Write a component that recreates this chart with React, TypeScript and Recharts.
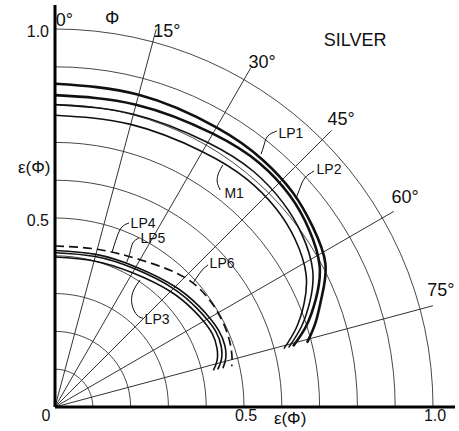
import React from 'react';
import { ComposedChart, Line, XAxis, YAxis, ReferenceLine, ReferenceDot } from 'recharts';

// ---- data (emissivity ε(Φ) at emission angle Φ, degrees) ----
const OUTER_ANGLES = [0, 15, 30, 40, 48, 55, 62, 67.5, 72, 75.7];
const LP1 = [0.855, 0.855, 0.854, 0.854, 0.847, 0.832, 0.81, 0.764, 0.725, 0.688];
const LP2 = [0.825, 0.828, 0.835, 0.842, 0.836, 0.82, 0.793, 0.747, 0.7, 0.65];
const MX = [0.8, 0.802, 0.808, 0.815, 0.81, 0.797, 0.772, 0.73, 0.685, 0.638];
const M1 = [0.772, 0.774, 0.78, 0.788, 0.786, 0.775, 0.752, 0.713, 0.67, 0.625];

const INNER_ANGLES = [0, 15, 30, 45, 55, 60, 65, 70, 74, 77];
const LP6 = [0.426, 0.432, 0.45, 0.485, 0.497, 0.498, 0.497, 0.493, 0.487, 0.48];
const LP4 = [0.414, 0.418, 0.428, 0.45, 0.465, 0.472, 0.478, 0.478, 0.47, 0.456];
const LP5 = [0.408, 0.412, 0.422, 0.443, 0.457, 0.464, 0.47, 0.468, 0.458, 0.442];
const LP3 = [0.397, 0.4, 0.41, 0.432, 0.447, 0.454, 0.459, 0.456, 0.446, 0.43];

const GRID_RADII = [0.1, 0.2, 0.3, 0.4, 0.5, 0.6, 0.7, 0.8, 0.9, 1.0];
const SPOKE_ANGLES = [15, 30, 45, 60, 75];
const SPOKE_LABELS = ['15°', '30°', '45°', '60°', '75°'];
const X_TICKS = [0, 0.5, 1.0];
const Y_TICKS = [0.5, 1.0];
const TITLE = 'SILVER';

// ---- annotation placement (data coordinates) ----
const SPOKE_LABEL_POS = [
  { x: 0.296, y: 0.997 },
  { x: 0.548, y: 0.915 },
  { x: 0.757, y: 0.762 },
  { x: 0.926, y: 0.556 },
  { x: 1.021, y: 0.31 },
];
const CURVE_LABELS = [
  { text: 'LP1', x: 0.624, y: 0.725, leader: [[0.587, 0.73], [0.563, 0.717], [0.553, 0.693], [0.545, 0.669]] },
  { text: 'LP2', x: 0.725, y: 0.63, leader: [[0.685, 0.624], [0.661, 0.606], [0.648, 0.579], [0.638, 0.553]] },
  { text: 'M1', x: 0.474, y: 0.566, leader: [[0.437, 0.574], [0.429, 0.598], [0.434, 0.622], [0.444, 0.64]] },
  { text: 'LP4', x: 0.233, y: 0.487, leader: [[0.196, 0.487], [0.177, 0.476], [0.164, 0.45], [0.151, 0.41]] },
  { text: 'LP5', x: 0.259, y: 0.447, leader: [[0.222, 0.447], [0.206, 0.434], [0.198, 0.407], [0.19, 0.384]] },
  { text: 'LP6', x: 0.442, y: 0.381, leader: [[0.405, 0.376], [0.389, 0.362], [0.376, 0.344], [0.365, 0.328]] },
  { text: 'LP3', x: 0.27, y: 0.233, leader: [[0.233, 0.235], [0.217, 0.243], [0.204, 0.27], [0.206, 0.304], [0.225, 0.336]] },
];

const FONT = '"Liberation Sans", Arial, sans-serif';
const INK = '#111';
const GRID = '#333';
const SCALE = 378; // px per 1.0 (equal aspect)
const PLOT_W = 400;
const PLOT_H = 402;

const rad = (d: number) => (d * Math.PI) / 180;
const toXY = (angles: number[], values: number[]) =>
  angles.map((a, i) => ({ x: values[i] * Math.sin(rad(a)), y: values[i] * Math.cos(rad(a)) }));
const arc = (r: number) => {
  const pts = [];
  for (let a = 0; a <= 90; a += 3) pts.push({ x: r * Math.sin(rad(a)), y: r * Math.cos(rad(a)) });
  return pts;
};

const SERIES = [
  { key: 'LP1', data: toXY(OUTER_ANGLES, LP1), w: 2.6, dash: undefined },
  { key: 'LP2', data: toXY(OUTER_ANGLES, LP2), w: 2.6, dash: undefined },
  { key: 'MX', data: toXY(OUTER_ANGLES, MX), w: 1.6, dash: undefined },
  { key: 'M1', data: toXY(OUTER_ANGLES, M1), w: 1.6, dash: undefined },
  { key: 'LP6', data: toXY(INNER_ANGLES, LP6), w: 1.7, dash: '9 5' },
  { key: 'LP4', data: toXY(INNER_ANGLES, LP4), w: 1.6, dash: undefined },
  { key: 'LP5', data: toXY(INNER_ANGLES, LP5), w: 1.6, dash: undefined },
  { key: 'LP3', data: toXY(INNER_ANGLES, LP3), w: 1.6, dash: undefined },
];

const XTick = (props: any) => {
  const { x, y, payload } = props;
  const v = payload.value;
  const label = v === 0 ? '0' : v.toFixed(1);
  return (
    <text x={v === 0 ? x - 9 : x + 2} y={y} dy="0.72em" textAnchor="middle" fontSize={16} fill={INK} fontFamily={FONT}>
      {label}
    </text>
  );
};
const YTick = (props: any) => {
  const { x, y, payload } = props;
  return (
    <text x={x} y={y + 2} dy="0.35em" textAnchor="end" fontSize={16} fill={INK} fontFamily={FONT}>
      {payload.value.toFixed(1)}
    </text>
  );
};

const txt = (key: string, x: number, y: number, value: string, size: number) => (
  <ReferenceDot
    key={key}
    x={x}
    y={y}
    r={0}
    fill="none"
    stroke="none"
    ifOverflow="visible"
    label={{ value, position: 'center', fontSize: size, fill: INK, fontFamily: FONT }}
  />
);

export default function App() {
  return (
    <div style={{ position: 'absolute', left: 0, top: 0, width: 459, height: 431, background: '#fff' }}>
      <ComposedChart width={459} height={431} margin={{ top: 5, right: 4, bottom: 0, left: 0 }}>
        <XAxis
          type="number"
          dataKey="x"
          domain={[0, PLOT_W / SCALE]}
          allowDataOverflow
          ticks={X_TICKS}
          tick={<XTick />}
          tickLine={false}
          tickSize={0}
          tickMargin={2}
          height={24}
          axisLine={{ stroke: '#000', strokeWidth: 3 }}
        />
        <YAxis
          type="number"
          dataKey="y"
          domain={[0, PLOT_H / SCALE]}
          allowDataOverflow
          ticks={Y_TICKS}
          tick={<YTick />}
          tickLine={false}
          tickSize={0}
          tickMargin={6}
          width={55}
          axisLine={{ stroke: '#000', strokeWidth: 3 }}
        />
        {GRID_RADII.map((r) => (
          <Line
            key={'g' + r}
            data={arc(r)}
            dataKey="y"
            type="linear"
            stroke={GRID}
            strokeWidth={0.9}
            dot={false}
            activeDot={false}
            isAnimationActive={false}
          />
        ))}
        {SPOKE_ANGLES.map((a) => (
          <ReferenceLine
            key={'s' + a}
            segment={[
              { x: 0, y: 0 },
              { x: 1.035 * Math.sin(rad(a)), y: 1.035 * Math.cos(rad(a)) },
            ]}
            stroke={GRID}
            strokeWidth={1}
            ifOverflow="visible"
          />
        ))}
        {SERIES.map((s) => (
          <Line
            key={s.key}
            name={s.key}
            data={s.data}
            dataKey="y"
            type="natural"
            stroke={INK}
            strokeWidth={s.w}
            strokeDasharray={s.dash}
            dot={false}
            activeDot={false}
            isAnimationActive={false}
          />
        ))}
        {CURVE_LABELS.map((c) => (
          <Line
            key={'ld' + c.text}
            data={c.leader.map((p) => ({ x: p[0], y: p[1] }))}
            dataKey="y"
            type="natural"
            stroke={INK}
            strokeWidth={1}
            dot={false}
            activeDot={false}
            isAnimationActive={false}
          />
        ))}
        {CURVE_LABELS.map((c) => txt('lb' + c.text, c.x, c.y, c.text, 14))}
        {SPOKE_LABEL_POS.map((p, i) => txt('sl' + i, p.x, p.y, SPOKE_LABELS[i], 18))}
        {txt('t0', 0.025, 1.024, '0°', 18)}
        {txt('phi', 0.151, 1.03, 'Φ', 18)}
        {txt('title', 0.794, 0.971, TITLE, 18)}
        {txt('ylab', -0.055, 0.635, 'ε(Φ)', 17)}
        {txt('xlab', 0.622, -0.029, 'ε(Φ)', 17)}
      </ComposedChart>
    </div>
  );
}
